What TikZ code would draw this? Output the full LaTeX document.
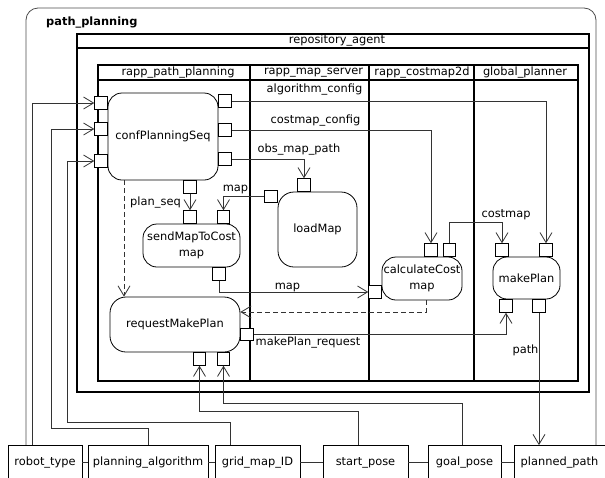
\documentclass[tikz,border=0pt]{standalone}
\usepackage{fontspec}
\setmainfont{DejaVu Sans}
\usetikzlibrary{arrows.meta,
	calc,
	positioning}
\newcommand{\diafont}{\fontsize{11.4pt}{15.5pt}\selectfont}
\tikzstyle{task}=[draw, rounded corners=14pt, line width=0.8pt, inner sep=0, align=center]
\tikzstyle{port}=[draw, fill=white, line width=0.8pt, minimum width=12.5pt, minimum height=12.5pt, inner sep=0]
\tikzstyle{dataitem}=[draw, fill=white, line width=0.8pt, minimum height=34pt, inner sep=0]
\tikzstyle{flow}=[draw=black!80, line width=0.8pt, -{Straight Barb[length=10pt,width=12pt]}]
\tikzstyle{plainflow}=[draw=black!80, line width=0.8pt]
\tikzstyle{lbl}=[inner sep=0]
\tikzstyle{lane}=[line width=1.6pt]

\begin{document}
\begin{tikzpicture}[x=1pt, y=-1pt, font=\diafont]
        \useasboundingbox (0,0) rectangle (605,477);
        \clip (0,0) rectangle (605,477);
        % outer frame
        \draw[black!70, line width=0.8pt, rounded corners=12pt] (26,490) -- (26,8) -- (596,8) -- (596,490);
        \node[lbl, anchor=west, font=\diafont\bfseries] (title) at (46,23) {path\_planning};
        % repository_agent
        \draw[lane] (77,34) rectangle (589,392);
        \draw[lane] (77,48) -- (589,48);
        \node[lbl] (repo) at (337,41) {repository\_agent};
        % component lanes
        \draw[lane] (98,65) rectangle (578,381);
        \draw[lane] (98,80) -- (578,80);
        \foreach \x in {250,369,474}
            \draw[lane] (\x,65) -- (\x,381);
        \node[lbl] (rpp) at (178,72.5) {rapp\_path\_planning};
        \node[lbl] (rms) at (313.5,72.5) {rapp\_map\_server};
        \node[lbl] (rcm) at (422,72.5) {rapp\_costmap2d};
        \node[lbl] (gpl) at (525,72.5) {global\_planner};
        % tasks
        \node[task, minimum width=110pt, minimum height=87pt] (cps) at (163,136.5) {confPlanningSeq};
        \node[task, minimum width=97pt, minimum height=43pt] (smc) at (191.5,245.5) {sendMapToCost\\map};
        \node[task, minimum width=79pt, minimum height=75pt, rounded corners=16pt] (lm) at (317.5,229.5) {loadMap};
        \node[task, minimum width=80pt, minimum height=43pt] (ccm) at (422,278.5) {calculateCost\\map};
        \node[task, minimum width=67pt, minimum height=42pt] (mp) at (526.5,278) {makePlan};
        \node[task, minimum width=130pt, minimum height=55pt, rounded corners=16pt] (rmp) at (175,324.5) {requestMakePlan};
        % ports
        \node[port, anchor=east] (cpsin1) at (cps.west |- 0,103) {};
        \node[port, anchor=east] (cpsin2) at (cps.west |- 0,129) {};
        \node[port, anchor=east] (cpsin3) at (cps.west |- 0,161) {};
        \node[port, anchor=west] (cpsout1) at (cps.east |- 0,101) {};
        \node[port, anchor=west] (cpsout2) at (cps.east |- 0,130) {};
        \node[port, anchor=west] (cpsout3) at (cps.east |- 0,159) {};
        \node[port, anchor=north] (cpsdown) at (cps.south -| 190,0) {};
        \node[port, anchor=south] (smcin1) at (smc.north -| 190,0) {};
        \node[port, anchor=south] (smcin2) at (smc.north -| 223.5,0) {};
        \node[port, anchor=north] (smcout) at (smc.south -| 219,0) {};
        \node[port, anchor=south] (lmin) at (lm.north -| 304,0) {};
        \node[port, anchor=east] (lmout) at (lm.west |- 0,196.5) {};
        \node[port, anchor=south] (ccmin1) at (ccm.north -| 431,0) {};
        \node[port, anchor=south] (ccmout) at (ccm.north -| 449.5,0) {};
        \node[port, anchor=east] (ccmin) at (ccm.west |- 0,292) {};
        \node[port, anchor=south] (mpin1) at (mp.north -| 502,0) {};
        \node[port, anchor=south] (mpin2) at (mp.north -| 546,0) {};
        \node[port, anchor=north] (mpout1) at (mp.south -| 506,0) {};
        \node[port, anchor=north] (mpout2) at (mp.south -| 539,0) {};
        \node[port, anchor=west] (rmpout) at (rmp.east |- 0,334.5) {};
        \node[port, anchor=north] (rmpin1) at (rmp.south -| 199.5,0) {};
        \node[port, anchor=north] (rmpin2) at (rmp.south -| 223.5,0) {};
        % data items
        \node[dataitem, minimum width=74pt] (rt) at (45,462.5) {robot\_type};
        \node[dataitem, minimum width=120pt] (pa) at (148,462.5) {planning\_algorithm};
        \node[dataitem, minimum width=85pt] (gm) at (257.5,462.5) {grid\_map\_ID};
        \node[dataitem, minimum width=85pt] (sp) at (365.5,462.5) {start\_pose};
        \node[dataitem, minimum width=73pt] (gp) at (464.5,462.5) {goal\_pose};
        \node[dataitem, minimum width=91pt] (pp) at (559.5,462.5) {planned\_path};
        \draw[plainflow] (rt) -- (pa);
        \draw[plainflow] (pa) -- (gm);
        \draw[plainflow] (gm) -- (sp);
        \draw[plainflow] (sp) -- (gp);
        \draw[plainflow] (gp) -- (pp);
        % inputs
        \draw[flow] ([xshift=-13pt]rt.north) |- (cpsin1);
        \draw[flow] (pa.north) |- (51,428) |- (cpsin2);
        \draw[flow] ([xshift=-27.5pt]gm.north) |- (67,422) |- (cpsin3);
        \draw[flow] ([xshift=-7.5pt]sp.north) |- (rmpin1 |- 0,411) -- (rmpin1);
        \draw[flow] ([xshift=-2.5pt]gp.north) |- (rmpin2 |- 0,403) -- (rmpin2);
        % data flows
        \draw[flow] (cpsout1) -| (mpin2);
        \draw[flow] (cpsout2) -| (ccmin1);
        \draw[flow] (cpsout3) -| (lmin);
        \draw[flow] (cpsdown) -- (smcin1);
        \draw[flow] (lmout) -| (smcin2);
        \draw[flow] (smcout) |- (ccmin);
        \draw[flow] (ccmout) -- (ccmout |- 0,222) -| (mpin1);
        \draw[flow] (rmpout) -| (mpout1);
        \draw[flow] (mpout2) -- (mpout2 |- pp.north);
        % control flows
        \draw[flow, dashed, dash pattern=on 5pt off 3pt] ([xshift=4pt]ccm.south) |- (rmp.east |- 0,312);
        \draw[flow, dashed, dash pattern=on 5pt off 3pt] (cps.south -| 124,0) -- (rmp.north -| 124,0);
        % labels
        \node[lbl] (algcfg) at (314.5,90) {algorithm\_config};
        \node[lbl] (cmcfg) at (315.5,121) {costmap\_config};
        \node[lbl] (obspath) at (299,150) {obs\_map\_path};
        \node[lbl] (planseq) at (155.5,203) {plan\_seq};
        \node[lbl] (mapa) at (235.5,189) {map};
        \node[lbl] (mapb) at (287.5,287) {map};
        \node[lbl] (cmap) at (506,215) {costmap};
        \node[lbl] (mpreq) at (308,343) {makePlan\_request};
        \node[lbl] (pathlbl) at (525.5,350) {path};
    \end{tikzpicture}
\end{document}
